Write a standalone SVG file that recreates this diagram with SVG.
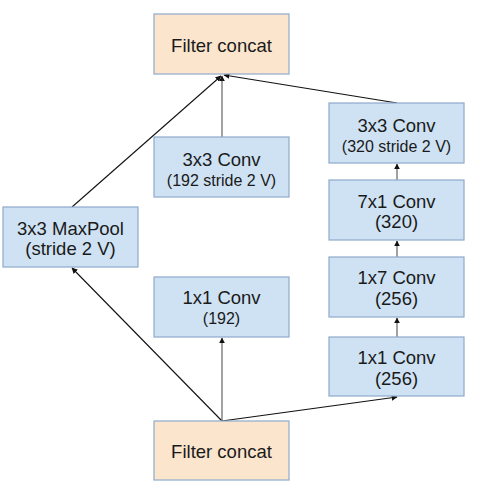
<svg xmlns="http://www.w3.org/2000/svg" width="488" height="489" viewBox="0 0 488 489">
<defs>
<style>
.b{fill:#cfe2f3;stroke:#8eaacb;stroke-width:1.2}
.o{fill:#fce5cd;stroke:#8eaacb;stroke-width:1.2}
text{font-family:"Liberation Sans",Arial,sans-serif;fill:#1a1a1a;text-anchor:middle}
.m{font-size:18.5px}
.s{font-size:16px}
.c line{stroke:#111;stroke-width:1.1;marker-end:url(#ah)}
.c line.g{stroke:#555}
</style>
<marker id="ah" viewBox="0 0 10 10" refX="9" refY="5" markerWidth="6" markerHeight="6" markerUnits="userSpaceOnUse" orient="auto">
<path d="M0,0 L10,5 L0,10 z" fill="#111"/>
</marker>
</defs>
<rect width="488" height="489" fill="#fff"/>
<g class="c" id="connectors">
<line x1="72" y1="207" x2="221" y2="76"/>
<line class="g" x1="222" y1="137" x2="222" y2="76"/>
<line x1="397" y1="103" x2="224" y2="75"/>
<line class="g" x1="397" y1="180" x2="397" y2="164"/>
<line class="g" x1="397" y1="257" x2="397" y2="241"/>
<line class="g" x1="397" y1="337" x2="397" y2="318"/>
<line x1="222" y1="421" x2="72" y2="268"/>
<line class="g" x1="222" y1="421" x2="222" y2="338"/>
<line x1="222" y1="421" x2="397" y2="397"/>
</g>
<g id="top_concat"><rect class="o" x="154" y="14" width="135" height="60"/><text class="m" x="221.5" y="52">Filter concat</text></g>
<g id="conv3_mid"><rect class="b" x="154" y="137" width="135" height="60"/><text class="m" x="221.5" y="166">3x3 Conv</text><text class="s" x="221.5" y="186">(192 stride 2 V)</text></g>
<g id="conv3_right"><rect class="b" x="329" y="103" width="135" height="60"/><text class="m" x="396.5" y="132">3x3 Conv</text><text class="s" x="396.5" y="152">(320 stride 2 V)</text></g>
<g id="conv71"><rect class="b" x="329" y="180" width="135" height="60"/><text class="m" x="396.5" y="208">7x1 Conv</text><text class="m" x="396.5" y="228">(320)</text></g>
<g id="maxpool"><rect class="b" x="3" y="207" width="135" height="60"/><text class="m" x="70.5" y="235">3x3 MaxPool</text><text class="m" x="70.5" y="255">(stride 2 V)</text></g>
<g id="conv11_mid"><rect class="b" x="154" y="277" width="135" height="60"/><text class="m" x="221.5" y="304">1x1 Conv</text><text class="s" x="221.5" y="324">(192)</text></g>
<g id="conv17"><rect class="b" x="329" y="257" width="135" height="60"/><text class="m" x="396.5" y="284">1x7 Conv</text><text class="m" x="396.5" y="305">(256)</text></g>
<g id="conv11_right"><rect class="b" x="329" y="337" width="135" height="59"/><text class="m" x="396.5" y="364">1x1 Conv</text><text class="m" x="396.5" y="385">(256)</text></g>
<g id="bottom_concat"><rect class="o" x="154" y="421" width="135" height="59"/><text class="m" x="221.5" y="458">Filter concat</text></g>
</svg>
